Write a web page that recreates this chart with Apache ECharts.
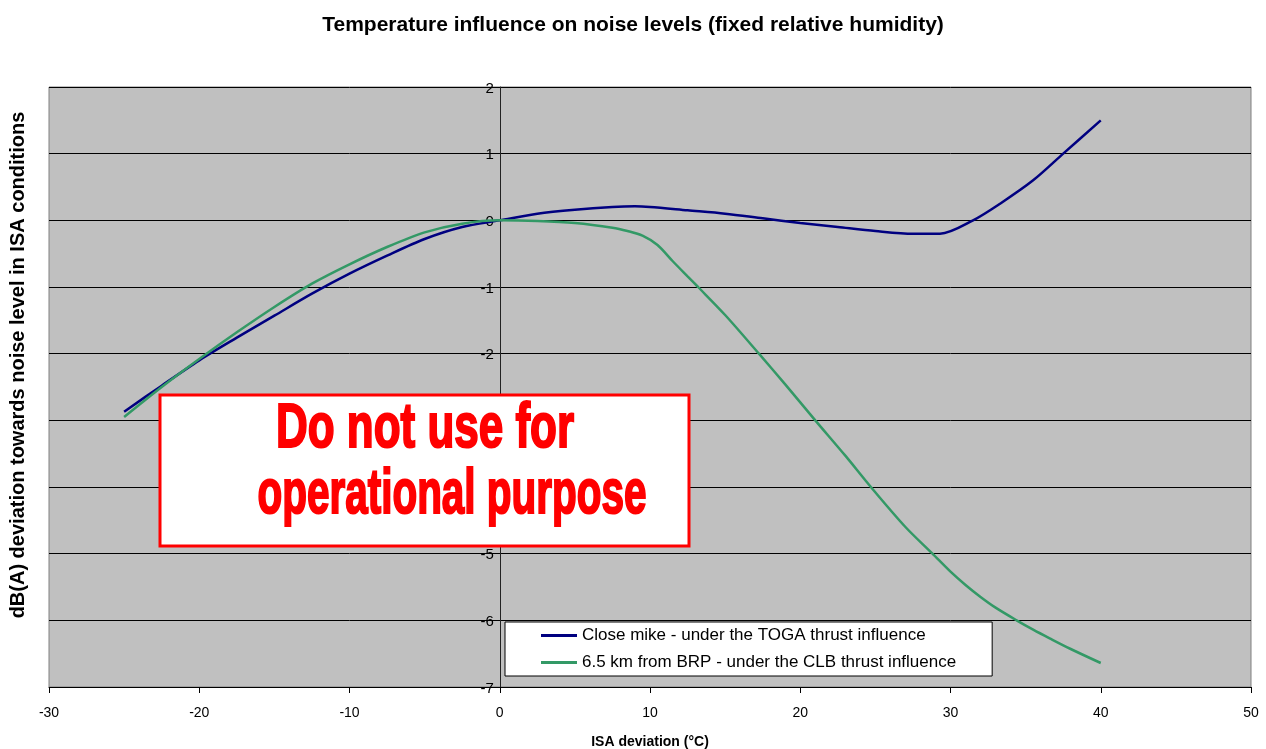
<!DOCTYPE html>
<html>
<head>
<meta charset="utf-8">
<script src="https://cdn.jsdelivr.net/npm/echarts@6/dist/echarts.min.js"></script>
<style>
html,body{margin:0;padding:0;background:#fff;}
#chart{width:1266px;height:749px;}
</style>
</head>
<body>
<div id="chart"></div>
<script>
// ISA deviation (°C) vs dB(A) deviation
const seriesNames = [
  'Close mike - under the TOGA thrust influence',
  '6.5 km from BRP - under the CLB thrust influence'
];
const closeMike = [
  [-25, -2.87], [-22.5, -2.48], [-20, -2.1], [-17.5, -1.76], [-15, -1.43],
  [-12.5, -1.1], [-10, -0.8], [-7.5, -0.53], [-5, -0.28], [-2.5, -0.1],
  [0, 0.0], [2.5, 0.1], [5, 0.16], [7.5, 0.2], [9, 0.21], [10, 0.2],
  [12.5, 0.15], [15, 0.1], [17.5, 0.03], [20, -0.04], [22.5, -0.1],
  [25, -0.16], [27.5, -0.2], [29.3, -0.2], [31.5, 0.0], [33.3, 0.25],
  [35.5, 0.6], [37.5, 1.0], [40, 1.5]
];
const farBRP = [
  [-25, -2.95], [-22.5, -2.5], [-20, -2.08], [-17.5, -1.68], [-15, -1.3],
  [-12.5, -0.95], [-10, -0.66], [-7.5, -0.4], [-5, -0.18], [-2.5, -0.05],
  [0, 0.0], [2.5, -0.01], [5, -0.04], [7.5, -0.11], [8.5, -0.16], [9.5, -0.23],
  [10.5, -0.37], [11.5, -0.61], [12.5, -0.84], [13.2, -1.0], [15, -1.42],
  [17.25, -2.0], [19, -2.46], [21, -3.0], [23, -3.53], [24.7, -4.0],
  [27, -4.6], [28.8, -5.0], [30, -5.27], [31, -5.47], [32, -5.65],
  [33, -5.81], [34.4, -6.0], [35.5, -6.14], [36.6, -6.27], [38, -6.43],
  [40, -6.64]
];
const xTicks = { min: -30, max: 50, interval: 10 };
const yTicks = { min: -7, max: 2, interval: 1 };
const titleText = 'Temperature influence on noise levels (fixed relative humidity)';
const xTitle = 'ISA deviation (°C)';
const yTitle = 'dB(A) deviation towards noise level in ISA conditions';
const warningLines = ['Do not use for', 'operational purpose'];

const FONT = '"Liberation Sans", Arial, sans-serif';
const chart = echarts.init(document.getElementById('chart'), null, { renderer: 'canvas' });

const gridLeft = 49, gridRight = 15;
const plotWidth = 1266 - gridLeft - gridRight;
const yAxisShift = plotWidth * (0 - xTicks.min) / (xTicks.max - xTicks.min);

chart.setOption({
  animation: false,
  backgroundColor: '#ffffff',
  title: {
    text: titleText,
    left: 'center',
    top: 10,
    textStyle: { fontFamily: FONT, fontWeight: 'bold', fontSize: 21, color: '#000' }
  },
  grid: {
    show: true,
    left: gridLeft, right: gridRight, top: 87, bottom: 62,
    outerBoundsMode: 'none',
    containLabel: false,
    backgroundColor: '#C0C0C0',
    borderColor: '#808080',
    borderWidth: 1
  },
  legend: {
    orient: 'vertical',
    left: 505,
    top: 622,
    backgroundColor: '#ffffff',
    borderColor: '#000000',
    borderWidth: 1,
    borderRadius: 0,
    padding: [5, 36, 5, 36],
    itemGap: 10,
    itemWidth: 36,
    itemHeight: 3,
    itemTextGap: 2,
    icon: 'rect',
    textStyle: { fontFamily: FONT, fontSize: 17, color: '#000', lineHeight: 17 },
    data: seriesNames
  },
  xAxis: {
    type: 'value',
    min: xTicks.min, max: xTicks.max, interval: xTicks.interval,
    position: 'bottom',
    name: xTitle,
    nameLocation: 'middle',
    nameGap: 48,
    nameTextStyle: { fontFamily: FONT, fontWeight: 'bold', fontSize: 14, color: '#000' },
    axisLine: { onZero: false, lineStyle: { color: '#000', width: 1 } },
    axisTick: { show: true, length: 6, inside: false, lineStyle: { color: '#000' } },
    axisLabel: { fontFamily: FONT, fontSize: 14, color: '#000', margin: 19 },
    splitLine: { show: false }
  },
  yAxis: {
    type: 'value',
    position: 'left',
    offset: -yAxisShift,
    min: yTicks.min, max: yTicks.max, interval: yTicks.interval,
    axisLine: { show: true, onZero: false, lineStyle: { color: '#222', width: 1 } },
    axisTick: { show: true, length: 4, lineStyle: { color: '#000' } },
    axisLabel: {
      fontFamily: FONT, fontSize: 15, color: '#000', margin: 6,
      formatter: '{v|{value}}',
      rich: { v: { fontFamily: FONT, fontSize: 15, color: '#000', padding: [3, 0, 0, 0] } }
    },
    splitLine: { show: true, lineStyle: { color: '#000', width: 1 } }
  },
  series: [
    {
      name: seriesNames[0],
      type: 'line',
      data: closeMike,
      showSymbol: false,
      smooth: 0.3,
      lineStyle: { color: '#000080', width: 2.5 },
      itemStyle: { color: '#000080' },
      z: 3
    },
    {
      name: seriesNames[1],
      type: 'line',
      data: farBRP,
      showSymbol: false,
      smooth: 0.3,
      lineStyle: { color: '#339966', width: 2.5 },
      itemStyle: { color: '#339966' },
      z: 3
    }
  ],
  graphic: [
    {
      type: 'text',
      x: 18, y: 365,
      rotation: Math.PI / 2,
      style: {
        text: yTitle,
        font: 'bold 20px ' + FONT,
        fill: '#000',
        align: 'center',
        verticalAlign: 'middle'
      }
    },
    {
      type: 'rect',
      shape: { x: 160, y: 395, width: 529, height: 151 },
      style: { fill: '#ffffff', stroke: '#ff0000', lineWidth: 3 },
      z: 100
    },
    {
      type: 'text',
      x: 425, y: 430,
      scaleX: 1.0, scaleY: 1.43,
      style: {
        text: warningLines[0],
        font: 'bold 44px ' + FONT,
        fill: '#ff0000',
        stroke: '#ff0000',
        lineWidth: 1.5,
        align: 'center',
        verticalAlign: 'middle'
      },
      z: 101
    },
    {
      type: 'text',
      x: 452, y: 496,
      scaleX: 0.92, scaleY: 1.43,
      style: {
        text: warningLines[1],
        font: 'bold 44px ' + FONT,
        fill: '#ff0000',
        stroke: '#ff0000',
        lineWidth: 1.5,
        align: 'center',
        verticalAlign: 'middle'
      },
      z: 101
    }
  ]
});
</script>
</body>
</html>
